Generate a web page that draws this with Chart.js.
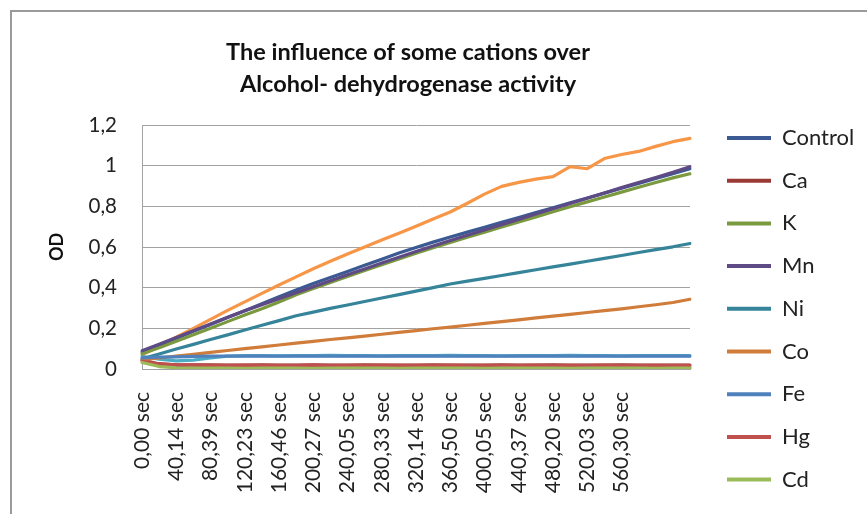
<!DOCTYPE html>
<html>
<head>
<meta charset="utf-8">
<title>The influence of some cations over Alcohol- dehydrogenase activity</title>
<script src="https://cdn.jsdelivr.net/npm/chart.js@4.4.1/dist/chart.umd.min.js"></script>
<style>
    html, body { margin: 0; padding: 0; background: #fff; }
    body { position: relative; width: 867px; height: 514px; overflow: hidden; }
    /* Excel chart-object border, cropped on the right and bottom */
    #frame {
        position: absolute; left: 10px; top: 10px; width: 900px; height: 600px;
        border-top: 2px solid #9a9a9a; border-left: 2px solid #9a9a9a;
    }
    #wrap { position: absolute; left: 0; top: 0; width: 867px; height: 514px; }
</style>
</head>
<body>
<div id="frame"></div>
<div id="wrap"><canvas id="chart" width="867" height="514"></canvas></div>
<script>
(function () {
    'use strict';

    // ─── Data (one point every ~20 s) ─────────────────────────────────────
    const timeTicks = ['0,00 sec', '40,14 sec', '80,39 sec', '120,23 sec', '160,46 sec',
        '200,27 sec', '240,05 sec', '280,33 sec', '320,14 sec', '360,50 sec', '400,05 sec',
        '440,37 sec', '480,20 sec', '520,03 sec', '560,30 sec'];
    const pointCount = 33;
    const yTickLabels = ['0', '0,2', '0,4', '0,6', '0,8', '1', '1,2'];

    const control = [.082, .117, .151, .185, .219, .253, .287, .321, .355, .388, .420, .450, .480,
        .510, .540, .570, .598, .624, .649, .673, .697, .721, .745, .769, .793, .817, .841, .865,
        .889, .913, .937, .960, .985];
    const ca = [.042, .026, .021, .020, .020, .019, .019, .020, .019, .019, .020, .019, .019, .020,
        .019, .019, .019, .020, .019, .019, .019, .020, .019, .019, .020, .019, .019, .019, .020,
        .019, .019, .019, .019];
    const k = [.075, .105, .137, .169, .201, .233, .265, .296, .330, .365, .396, .426, .455, .484,
        .513, .541, .569, .596, .622, .648, .673, .698, .723, .748, .773, .798, .822, .846, .870,
        .894, .917, .940, .960];
    const mn = [.090, .122, .155, .188, .221, .254, .286, .316, .345, .375, .405, .434, .463, .492,
        .521, .550, .578, .605, .632, .658, .684, .710, .736, .762, .788, .814, .840, .866, .892,
        .917, .942, .967, .995];
    const ni = [.050, .074, .098, .121, .145, .168, .192, .215, .238, .262, .280, .298, .315, .332,
        .349, .366, .383, .400, .418, .432, .446, .460, .474, .488, .502, .516, .530, .544, .558,
        .573, .587, .601, .617];
    const co = [.045, .054, .063, .072, .082, .091, .100, .109, .118, .127, .136, .145, .153, .162,
        .171, .180, .189, .198, .206, .215, .224, .233, .242, .251, .260, .269, .278, .287, .296,
        .306, .316, .327, .343];
    const fe = [.055, .058, .060, .062, .063, .063, .064, .063, .063, .064, .063, .063, .064, .063,
        .063, .064, .063, .063, .064, .063, .063, .063, .064, .063, .063, .064, .063, .063, .063,
        .064, .063, .063, .063];
    const hg = [.038, .024, .020, .019, .018, .018, .019, .018, .018, .018, .019, .018, .018, .018,
        .019, .018, .018, .018, .019, .018, .018, .018, .018, .019, .018, .018, .018, .019, .018,
        .018, .018, .018, .018];
    const cd = [.032, .012, .006, .004, .004, .004, .003, .004, .004, .004, .003, .004, .004, .004,
        .004, .003, .004, .004, .004, .004, .003, .004, .004, .004, .004, .003, .004, .004, .004,
        .004, .003, .004, .004];

    // series whose legend entries were removed in the original sheet
    const unlabeledOrange = [.070, .112, .156, .200, .244, .288, .330, .372, .413, .453, .493, .530,
        .566, .600, .634, .668, .702, .738, .772, .815, .860, .898, .918, .934, .946, .995, .985,
        1.035, 1.055, 1.070, 1.095, 1.118, 1.134];
    const unlabeledAqua = [.062, .048, .040, .044, .054, .063, .066, .066, .065, .066, .066, .067,
        .066, .066, .065, .066, .066, .066, .067, .066, .066, .065, .066, .066, .066, .067, .066,
        .066, .065, .066, .066, .066, .066];
    const unlabeledPurple = [.048, .020, .008, .004, .010, .012, .008, .006, .006, .005, .006, .006,
        .005, .006, .006, .006, .005, .006, .006, .006, .005, .006, .006, .006, .005, .006, .006,
        .006, .005, .006, .006, .006, .006];

    // ─── Series table (drawn in this order; later ones on top) ────────────
    const series = [
        { name: '',        values: unlabeledOrange, color: '#f79646' },
        { name: '',        values: unlabeledAqua,   color: '#4bacc6' },
        { name: '',        values: unlabeledPurple, color: '#8064a2' },
        { name: 'Control', values: control, color: '#3b5a93' },
        { name: 'Ca',      values: ca,      color: '#9a3a35' },
        { name: 'K',       values: k,       color: '#7b9a40' },
        { name: 'Mn',      values: mn,      color: '#5e4a85' },
        { name: 'Ni',      values: ni,      color: '#35849a' },
        { name: 'Co',      values: co,      color: '#d07c3a' },
        { name: 'Fe',      values: fe,      color: '#4f81bd' },
        { name: 'Hg',      values: hg,      color: '#c0504d' },
        { name: 'Cd',      values: cd,      color: '#9bbb59' }
    ];

    const categories = Array.from({ length: pointCount }, function (_, i) {
        return i % 2 === 0 ? (timeTicks[i / 2] || '') : '';
    });

    const FONT = "Lato, 'Open Sans', sans-serif";
    const GRID = '#a2a2a2';

    // Pins the boxes to the Excel layout (plot area 142..690 x 125..369)
    const excelLayout = {
        id: 'excelLayout',
        beforeInit: function (chart) {
            const legend = chart.legend;
            const fit = legend.fit;
            legend.fit = function () { fit.call(this); this.width = 177; };
        },
        afterLayout: function (chart) {
            const t = chart.titleBlock;
            if (t) { t.left -= 8; t.right -= 8; }
            const lg = chart.legend;
            lg.left = 706.3; lg.right = 867;
            lg.top = 106.3; lg.bottom = 800;
        }
    };

    new Chart(document.getElementById('chart'), {
        type: 'line',
        data: {
            labels: categories,
            datasets: series.map(function (s, i) {
                return {
                    label: s.name,
                    data: s.values,
                    borderColor: s.color,
                    backgroundColor: s.color,
                    borderWidth: 3.2,
                    borderJoinStyle: 'round',
                    borderCapStyle: 'round',
                    pointRadius: 0,
                    tension: 0,
                    order: series.length - 1 - i
                };
            })
        },
        options: {
            responsive: false,
            animation: false,
            layout: { padding: 0 },
            plugins: {
                title: {
                    display: true,
                    fullSize: false,
                    text: ['The influence of some cations over', 'Alcohol- dehydrogenase activity'],
                    color: '#111',
                    font: { family: FONT, size: 23.5, weight: 'bold', lineHeight: 32 / 23.5 },
                    padding: { top: 36, bottom: 25 }
                },
                legend: {
                    position: 'right',
                    align: 'start',
                    labels: {
                        font: { family: FONT, size: 22 },
                        color: '#222',
                        boxWidth: 44,
                        boxHeight: 4,
                        padding: 20.7,
                        generateLabels: function (chart) {
                            return Chart.defaults.plugins.legend.labels.generateLabels(chart)
                                .filter(function (it) { return it.text !== ''; })
                                .sort(function (a, b) { return a.datasetIndex - b.datasetIndex; })
                                .map(function (it) { it.lineWidth = 0; return it; });
                        }
                    }
                },
                tooltip: { enabled: false }
            },
            scales: {
                x: {
                    type: 'category',
                    offset: false,
                    grid: { display: false, drawTicks: false },
                    border: { display: true, color: GRID, width: 1 },
                    ticks: {
                        autoSkip: false,
                        minRotation: 90,
                        maxRotation: 90,
                        padding: 23,
                        color: '#222',
                        font: { family: FONT, size: 21 }
                    },
                    afterFit: function (scale) { scale.height = 145; }
                },
                y: {
                    min: 0,
                    max: 1.2,
                    grid: { color: GRID, lineWidth: 1, drawTicks: false },
                    border: { display: true, color: GRID, width: 1 },
                    ticks: {
                        stepSize: 0.2,
                        padding: 25,
                        color: '#222',
                        font: { family: FONT, size: 20.5 },
                        callback: function (value, index) { return yTickLabels[index]; }
                    },
                    title: {
                        display: true,
                        text: 'OD',
                        color: '#111',
                        font: { family: FONT, size: 18, weight: 'bold', lineHeight: 1.2 },
                        padding: { top: 46, bottom: 0 }
                    },
                    afterFit: function (scale) { scale.width = 142; }
                }
            }
        },
        plugins: [excelLayout]
    });
})();
</script>
</body>
</html>
